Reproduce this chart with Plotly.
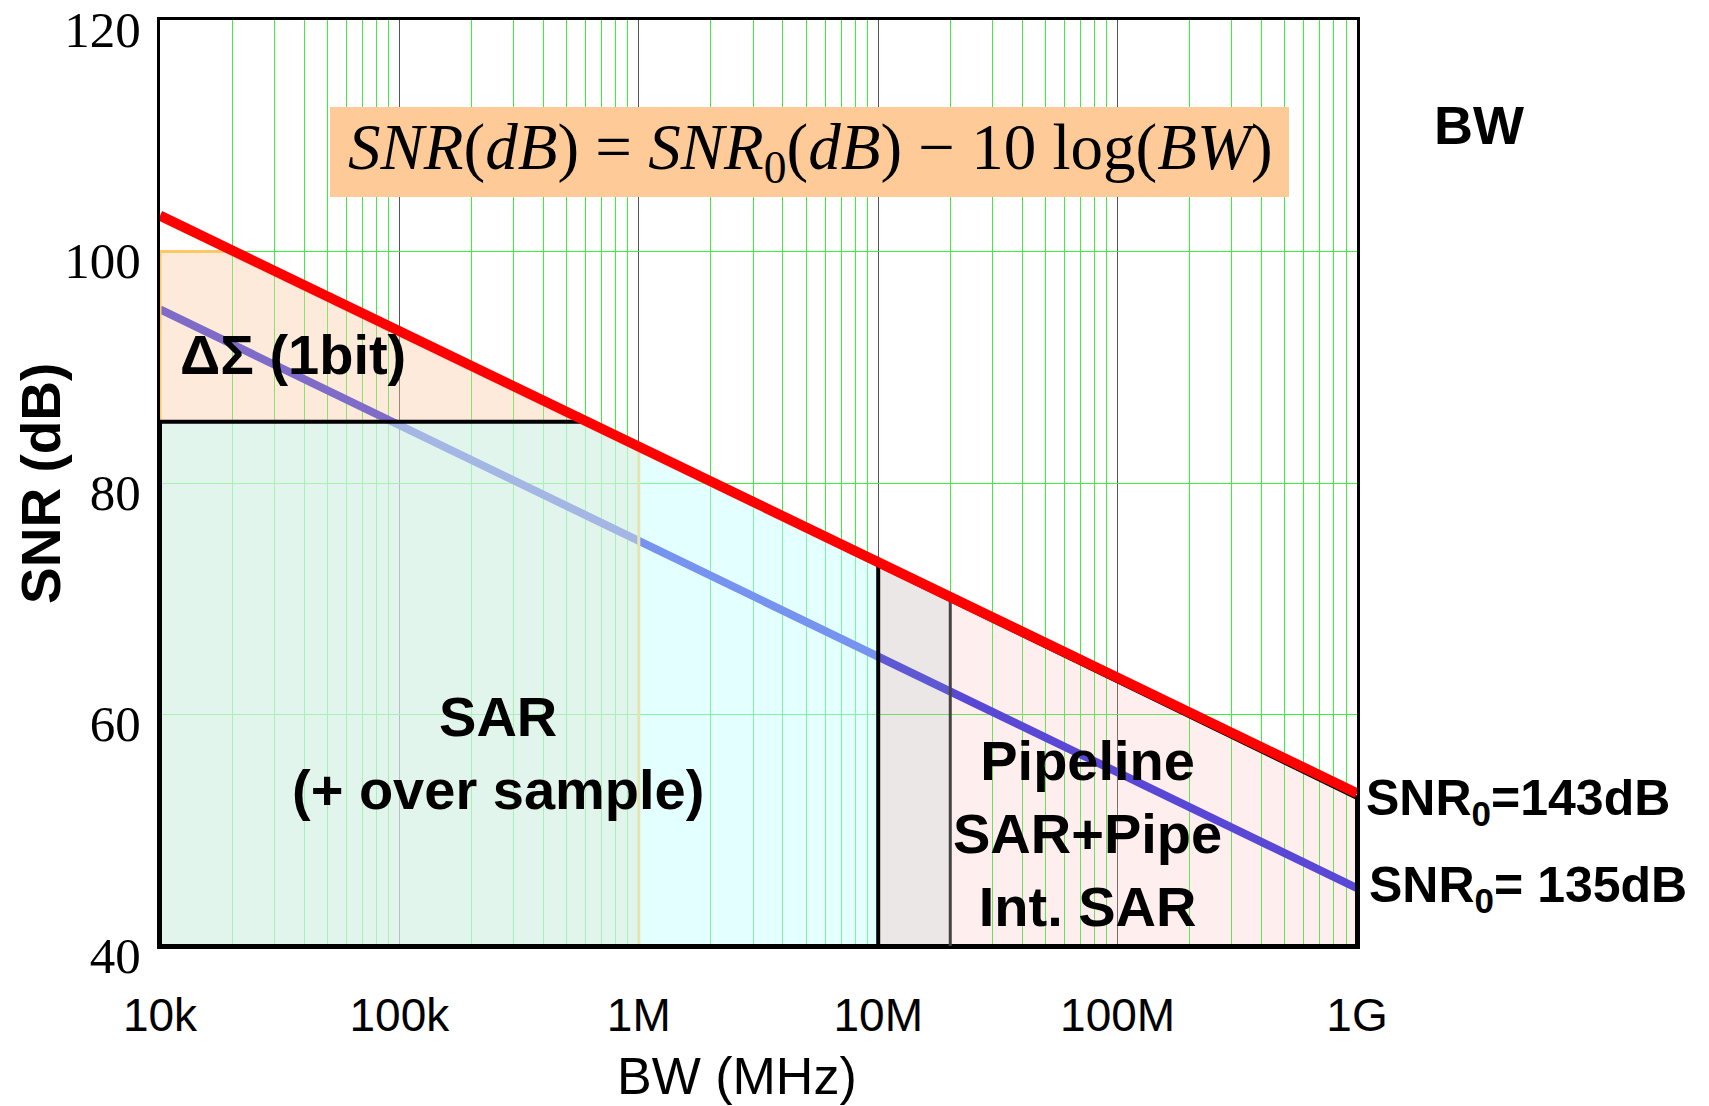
import plotly.graph_objects as go

# ---- data ----
x_ticks = [1e4, 1e5, 1e6, 1e7, 1e8, 1e9]
x_tick_text = ["10k", "100k", "1M", "10M", "100M", "1G"]
y_ticks = [40, 60, 80, 100, 120]
minor_vals = [m * 10 ** e for e in range(4, 9) for m in range(2, 10)]

red_bw = [1e4, 1e9]          # SNR0 = 143 dB
red_snr = [103.1, 53.2]
blue_bw = [1e4, 1e9]         # SNR0 = 135 dB
blue_snr = [95.0, 45.0]

ds_bw = [1e4, 1e4, 2e4, 1e6, 1e6]            # Delta-Sigma region
ds_snr = [40, 100, 100, 83.0, 40]
sar_bw = [1e4, 1e4, 5.85e5, 1e7, 1e7]        # SAR region
sar_snr = [40, 85.3, 85.3, 72.9, 40]
gray_bw = [1e7, 1e7, 2e7, 2e7]               # transition region
gray_snr = [40, 72.9, 69.9, 40]
pipe_bw = [2e7, 2e7, 1e9, 1e9]               # pipeline region
pipe_snr = [40, 69.9, 52.8, 40]
outline_bw = [1e4, 1e4, 5.85e5, 1e9, 1e9, 1e4]
outline_snr = [40, 85.3, 85.3, 52.8, 40, 40]
div1_bw = [1e7, 1e7]
div1_snr = [40, 72.9]
div2_bw = [2e7, 2e7]
div2_snr = [40, 69.9]

OFF = 8                       # page body margin
W, H = 1709 - OFF, 1106 - OFF
L, T = 160 - OFF, 20 - OFF
PW, PH = 1197, 926
R, B = W - L - PW, H - T - PH


def px(x):
    return (x - OFF - L) / PW


def py(y):
    return (T + PH - (y - OFF)) / PH


fig = go.Figure()

fig.add_trace(go.Scatter(x=blue_bw, y=blue_snr, mode="lines",
                         line=dict(color="#2626E0", width=8), hoverinfo="skip"))
fig.add_trace(go.Scatter(x=ds_bw, y=ds_snr, mode="lines", fill="toself",
                         fillcolor="rgba(250,205,170,0.42)",
                         line=dict(color="#FFC864", width=3), hoverinfo="skip"))
fig.add_trace(go.Scatter(x=sar_bw, y=sar_snr, mode="lines", fill="toself",
                         fillcolor="rgba(200,255,255,0.5)",
                         line=dict(width=0, color="rgba(0,0,0,0)"), hoverinfo="skip"))
fig.add_trace(go.Scatter(x=gray_bw, y=gray_snr, mode="lines", fill="toself",
                         fillcolor="rgba(200,185,185,0.35)",
                         line=dict(width=0, color="rgba(0,0,0,0)"), hoverinfo="skip"))
fig.add_trace(go.Scatter(x=pipe_bw, y=pipe_snr, mode="lines", fill="toself",
                         fillcolor="rgba(255,185,185,0.24)",
                         line=dict(width=0, color="rgba(0,0,0,0)"), hoverinfo="skip"))
fig.add_trace(go.Scatter(x=outline_bw, y=outline_snr, mode="lines",
                         line=dict(color="black", width=4), hoverinfo="skip"))
fig.add_trace(go.Scatter(x=div1_bw, y=div1_snr, mode="lines",
                         line=dict(color="black", width=4), hoverinfo="skip"))
fig.add_trace(go.Scatter(x=div2_bw, y=div2_snr, mode="lines",
                         line=dict(color="#444444", width=3), hoverinfo="skip"))
fig.add_trace(go.Scatter(x=red_bw, y=red_snr, mode="lines",
                         line=dict(color="#FF0000", width=10), hoverinfo="skip"))

# formula box
fig.add_shape(type="rect", xref="paper", yref="paper",
              x0=px(330), x1=px(1289), y0=py(197), y1=py(107),
              fillcolor="#FECB98", line=dict(width=0), layer="above")

annotations = [
    dict(x=px(810), y=py(152),
         text="<i>SNR</i>(<i>dB</i>) = <i>SNR</i><sub>0</sub>(<i>dB</i>) − 10 log(<i>BW</i>)",
         font=dict(family="Liberation Serif", size=65, color="black")),
    dict(x=px(1479), y=py(125), text="<b>BW</b>",
         font=dict(family="Liberation Sans", size=54, color="black")),
    dict(x=px(293), y=py(354), text="<b>ΔΣ (1bit)</b>",
         font=dict(family="Liberation Sans", size=56, color="black")),
    dict(x=px(498), y=py(753), text="<b>SAR<br>(+ over sample)</b>",
         font=dict(family="Liberation Sans", size=56, color="black")),
    dict(x=px(1087), y=py(833), text="<b>Pipeline<br>SAR+Pipe<br>Int. SAR</b>",
         font=dict(family="Liberation Sans", size=56, color="black")),
    dict(x=px(1365), y=py(801), xanchor="left", text="<b>SNR<sub>0</sub>=143dB</b>",
         font=dict(family="Liberation Sans", size=50, color="black")),
    dict(x=px(1368), y=py(888), xanchor="left", text="<b>SNR<sub>0</sub>= 135dB</b>",
         font=dict(family="Liberation Sans", size=50, color="black")),
    dict(x=px(737), y=py(1106), yanchor="bottom", text="BW (MHz)",
         font=dict(family="Liberation Sans", size=52, color="black")),
    dict(x=px(41), y=py(484), text="<b>SNR (dB)</b>", textangle=-90,
         font=dict(family="Liberation Sans", size=55, color="black")),
]
for a in annotations:
    a.setdefault("xanchor", "center")
    a.setdefault("yanchor", "middle")
    fig.add_annotation(xref="paper", yref="paper", showarrow=False,
                       borderpad=0, **a)

fig.update_layout(
    width=W, height=H,
    margin=dict(l=L, r=R, t=T, b=B, autoexpand=False),
    paper_bgcolor="white", plot_bgcolor="white",
    showlegend=False,
    xaxis=dict(type="log", range=[4, 9], tickvals=x_ticks, ticktext=x_tick_text,
               showgrid=True, gridcolor="#555555", gridwidth=1,
               minor=dict(tickvals=minor_vals, showgrid=True,
                          gridcolor="#3CF03C", gridwidth=1),
               showline=True, linecolor="black", linewidth=3, mirror=True,
               ticks="", ticklabelstandoff=27, zeroline=False,
               tickfont=dict(family="Liberation Sans", size=46, color="black")),
    yaxis=dict(range=[40, 120], tickvals=y_ticks,
               showgrid=True, gridcolor="#3CF03C", gridwidth=1,
               showline=True, linecolor="black", linewidth=3, mirror=True,
               ticks="", ticklabelstandoff=6, ticklabelshift=9, zeroline=False,
               ticklabeloverflow="allow",
               tickfont=dict(family="Liberation Serif", size=51, color="black")),
)

fig.write_html("out.html")
